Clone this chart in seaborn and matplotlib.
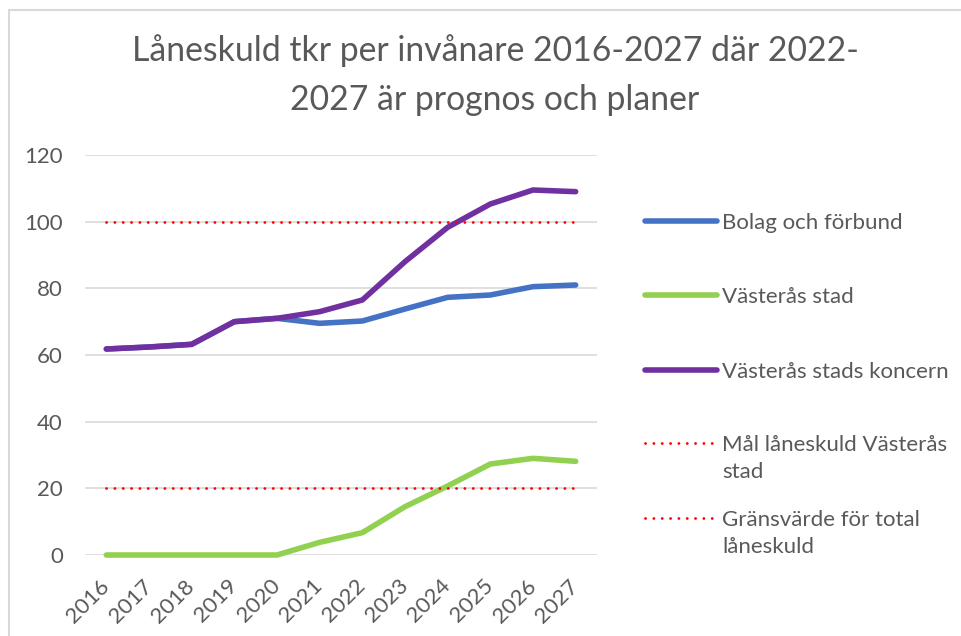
import pandas as pd
import matplotlib.pyplot as plt
import seaborn as sns
from matplotlib.lines import Line2D

# Data
years = ["2016", "2017", "2018", "2019", "2020", "2021",
         "2022", "2023", "2024", "2025", "2026", "2027"]
bolag = [61.8, 62.4, 63.2, 70.0, 71.0, 69.5, 70.2, 73.8, 77.3, 78.0, 80.5, 81.0]
stad = [0, 0, 0, 0, 0, 3.8, 6.7, 14.5, 20.7, 27.3, 29.0, 28.1]
koncern = [61.8, 62.4, 63.2, 70.0, 71.0, 73.0, 76.5, 88.0, 98.3, 105.3, 109.5, 109.0]
mal_stad = [20, 20, 20, 20, 20, 20, 20, 20, 20, 20, 20, 20]
grans_total = [100, 100, 100, 100, 100, 100, 100, 100, 100, 100, 100, 100]

series_names = ["Bolag och förbund", "Västerås stad", "Västerås stads koncern",
                "Mål låneskuld Västerås\nstad", "Gränsvärde för total\nlåneskuld"]
series_values = [bolag, stad, koncern, mal_stad, grans_total]
colors = ["#4472C4", "#92D050", "#7030A0", "#FF0000", "#FF0000"]
dotted = [False, False, False, True, True]

sns.set_theme(style="white")
plt.rcParams['font.family'] = ['Lato', 'DejaVu Sans']
text_gray = "#595959"

W, H = 961, 636
fig = plt.figure(figsize=(W / 100, H / 100), dpi=100)
ax = fig.add_axes([85 / W, 81 / H, 512 / W, 400 / H])

for name, vals, col, dot in zip(series_names, series_values, colors, dotted):
    if dot:
        sns.lineplot(x=years, y=vals, ax=ax, color=col, linewidth=2.0,
                     dashes=False, clip_on=False)
        ln = ax.get_lines()[-1]
        ln.set_dashes((0.05, 2.95))
        ln.set_dash_capstyle("round")
    else:
        sns.lineplot(x=years, y=vals, ax=ax, color=col, linewidth=4.0,
                     clip_on=False, solid_capstyle="round", solid_joinstyle="round")

ax.set_xlim(-0.5, 11.5)
ax.set_ylim(0, 120)
ax.set_yticks(range(0, 121, 20))
ax.grid(axis="y", color="#D9D9D9", linewidth=1.2)
ax.set_axisbelow(True)
for s in ax.spines.values():
    s.set_visible(False)
ax.set_xlabel("")
ax.set_ylabel("")
ax.tick_params(axis="y", length=0, pad=16, labelsize=16, labelcolor=text_gray)
ax.tick_params(axis="x", length=0, pad=20, labelsize=16, labelcolor=text_gray)
plt.setp(ax.get_xticklabels(), rotation=45, ha="right", va="center",
         rotation_mode="anchor")

# Title
fig.text(495 / W, 1 - 75 / H,
         "Låneskuld tkr per invånare 2016-2027 där 2022-\n2027 är prognos och planer",
         ha="center", va="center", fontsize=24.3, color=text_gray, linespacing=1.63)

# Legend drawn at the right, first line of each label level with its key
legend_y = [221, 295, 370, 443, 518]
for name, col, dot, yy in zip(series_names, colors, dotted, legend_y):
    yf = 1 - yy / H
    if dot:
        key = Line2D([645 / W, 717 / W], [yf, yf], transform=fig.transFigure,
                     color=col, linewidth=2.0, dashes=(0.05, 2.95),
                     dash_capstyle="round")
    else:
        key = Line2D([645 / W, 717 / W], [yf, yf], transform=fig.transFigure,
                     color=col, linewidth=4.0, solid_capstyle="round")
    fig.add_artist(key)
    fig.text(722 / W, yf + 8 / H, name, ha="left", va="top", fontsize=16,
             color=text_gray, linespacing=1.41)

# Chart-area border (left and top edges visible in the crop)
fig.add_artist(Line2D([8.5 / W, 8.5 / W], [0, 1 - 10 / H], transform=fig.transFigure,
                      color="#D9D9D9", linewidth=1.5))
fig.add_artist(Line2D([8.5 / W, 1], [1 - 10 / H, 1 - 10 / H], transform=fig.transFigure,
                      color="#D9D9D9", linewidth=1.5))

fig.savefig("out.png", dpi=100)
